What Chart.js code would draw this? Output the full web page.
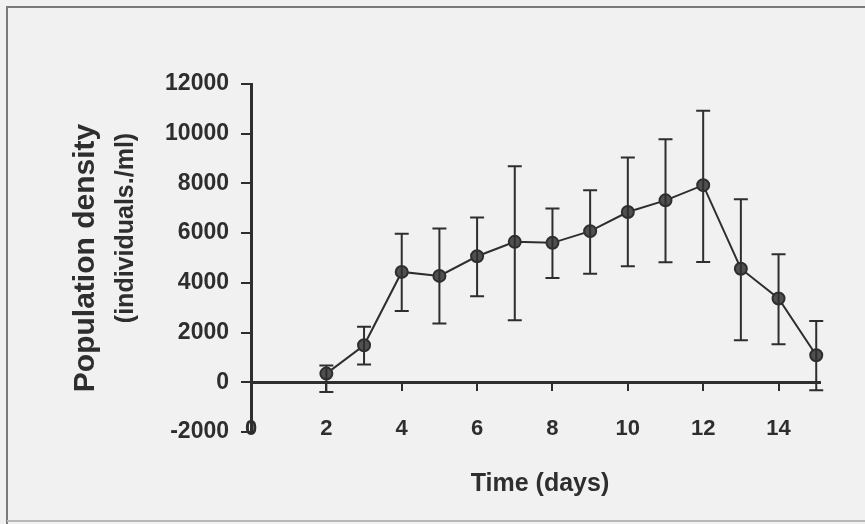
<!DOCTYPE html>
<html>
<head>
<meta charset="utf-8">
<script src="https://cdn.jsdelivr.net/npm/chart.js@4.4.0/dist/chart.umd.min.js"></script>
<style>
  html, body { margin: 0; padding: 0; background: #f1f1f1; }
  #wrap { position: relative; width: 865px; height: 524px; }
  canvas { display: block; }
</style>
</head>
<body>
<div id="wrap"><canvas id="grafico" width="865" height="524"></canvas></div>
<script>
// Dados (dias e densidade média com barras de erro)
const dias = [2, 3, 4, 5, 6, 7, 8, 9, 10, 11, 12, 13, 14, 15];
const densidadeMedia = [350, 1490, 4440, 4280, 5070, 5650, 5610, 6080, 6850, 7320, 7930, 4570, 3370, 1090];
const erroSuperior = [680, 2230, 5980, 6190, 6630, 8690, 6990, 7730, 9040, 9780, 10920, 7360, 5150, 2470];
const erroInferior = [-390, 720, 2870, 2360, 3460, 2500, 4200, 4370, 4670, 4830, 4840, 1690, 1530, -320];

const tituloY = ['Population density', '(individuals./ml)'];
const tituloX = 'Time (days)';

const corTinta = '#2e2e2e';
const fonte = '"Liberation Sans", Arial, sans-serif';

// Plugin simples para as barras de erro
const barrasErro = {
  id: 'barrasErro',
  afterDatasetsDraw(chart) {
    const { ctx, scales: { x, y } } = chart;
    ctx.save();
    ctx.strokeStyle = corTinta;
    ctx.lineWidth = 2;
    dias.forEach((d, i) => {
      const px = x.getPixelForValue(d);
      const yTop = y.getPixelForValue(erroSuperior[i]);
      const yBot = y.getPixelForValue(erroInferior[i]);
      ctx.beginPath();
      ctx.moveTo(px, yTop); ctx.lineTo(px, yBot);
      ctx.moveTo(px - 7, yTop); ctx.lineTo(px + 7, yTop);
      ctx.moveTo(px - 7, yBot); ctx.lineTo(px + 7, yBot);
      ctx.stroke();
    });
    ctx.restore();
  }
};

// Títulos dos eixos e moldura da figura
const moldura = {
  id: 'moldura',
  afterDraw(chart) {
    const { ctx } = chart;
    ctx.save();
    ctx.strokeStyle = '#7a7a7a';
    ctx.lineWidth = 2;
    ctx.beginPath();
    ctx.moveTo(7, 524); ctx.lineTo(7, 7); ctx.lineTo(865, 7);
    ctx.stroke();
    ctx.strokeStyle = '#b8b8b8';
    ctx.beginPath();
    ctx.moveTo(7, 521); ctx.lineTo(865, 521);
    ctx.stroke();

    ctx.fillStyle = corTinta;
    ctx.textAlign = 'center';
    ctx.textBaseline = 'middle';
    ctx.save();
    ctx.translate(86, 258);
    ctx.rotate(-Math.PI / 2);
    ctx.font = 'bold 30px ' + fonte;
    ctx.fillText(tituloY[0], 0, 0);
    ctx.restore();
    ctx.save();
    ctx.translate(126, 228);
    ctx.rotate(-Math.PI / 2);
    ctx.font = 'bold 25px ' + fonte;
    ctx.fillText(tituloY[1], 0, 0);
    ctx.restore();

    ctx.font = 'bold 25px ' + fonte;
    ctx.fillText(tituloX, 540, 484);
    ctx.restore();
  }
};

const ctx = document.getElementById('grafico').getContext('2d');
const grafico = new Chart(ctx, {
  type: 'line',
  data: {
    datasets: [{
      data: dias.map((d, i) => ({ x: d, y: densidadeMedia[i] })),
      borderColor: corTinta,
      borderWidth: 2,
      pointRadius: 6,
      pointBackgroundColor: '#505050',
      pointBorderColor: corTinta,
      pointBorderWidth: 2,
      tension: 0,
      clip: false
    }]
  },
  options: {
    responsive: false,
    animation: false,
    layout: { padding: { left: 0, right: 45, top: 84, bottom: 92 } },
    plugins: {
      legend: { display: false },
      tooltip: { enabled: false }
    },
    scales: {
      x: {
        type: 'linear',
        position: { y: 0 },
        min: 0,
        max: 15.1,
        ticks: {
          stepSize: 2,
          includeBounds: false,
          padding: 26,
          color: corTinta,
          font: { family: fonte, size: 22, weight: 'bold' },
          callback: (v) => String(v)
        },
        grid: { drawOnChartArea: false, tickLength: 7, color: corTinta, lineWidth: 2 },
        border: { color: corTinta, width: 3 }
      },
      y: {
        min: -2000,
        max: 12000,
        afterFit(escala) { escala.width = 251; },
        ticks: {
          stepSize: 2000,
          padding: 12,
          color: corTinta,
          font: { family: fonte, size: 23, weight: 'bold' },
          callback: (v) => String(v)
        },
        grid: {
          drawOnChartArea: false,
          tickLength: 10,
          tickColor: corTinta,
          lineWidth: 2
        },
        border: { color: corTinta, width: 3 }
      }
    }
  },
  plugins: [barrasErro, moldura]
});
</script>
</body>
</html>
